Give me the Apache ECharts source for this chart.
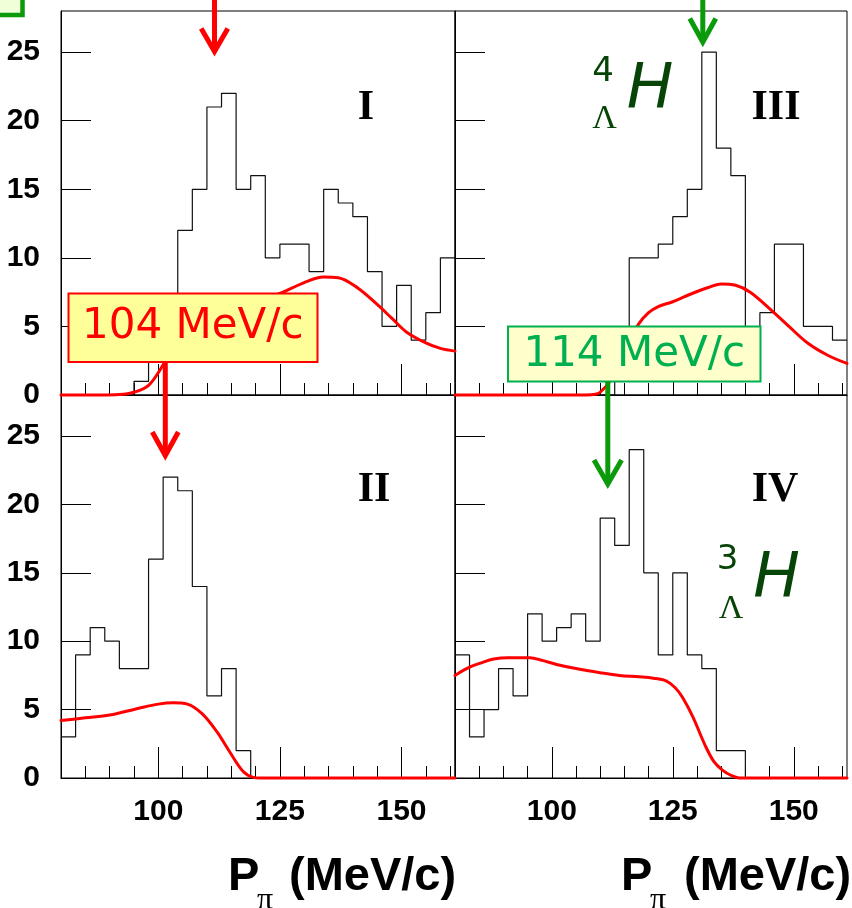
<!DOCTYPE html>
<html><head><meta charset="utf-8">
<script src="https://cdn.jsdelivr.net/npm/echarts@6/dist/echarts.min.js"></script>
<style>html,body{margin:0;padding:0;background:#fff}#c{width:852px;height:908px}</style>
</head><body><div id="c"></div>
<script>
// ---- data ----
const binEdges = [80,83,86,89,92,95,98,101,104,107,110,113,116,119,122,125,128,131,134,137,140,143,146,149,152,155,158,161];
const countsI   = [0,0,0,0,0,1,3,5,12,15,21,22,15,16,10,11,11,9,15,14,13,9,5,8,4,6,10];
const countsIII = [0,0,0,0,0,0,0,0,0,0,0,2,10,10,11,13,15,25,18,16,4,6,11,11,5,5,4];
const countsII  = [3,9,11,10,8,8,16,22,21,14,6,8,2,0,0,0,0,0,0,0,0,0,0,0,0,0,0];
const countsIV  = [9,3,5,8,6,12,10,11,12,10,19,17,24,15,9,15,9,8,2,2,0,0,0,0,0,0,0];

const curveI = [[80,0],[88,0],[92,0.03],[95,0.2],[98,0.7],[101,2.2],[104,4.0],[107,5.2],[110,5.9],[115,6.5],[120,6.9],[125,7.4],[130,8.2],[134,8.6],[137,8.55],[141,7.8],[145,6.6],[148,5.6],[151,4.6],[155,3.8],[158,3.4],[161,3.2]];
const curveIII = [[80,0],[100,0],[107,0],[109,0.05],[110,0.2],[112,1.0],[114,2.4],[116,3.9],[118,5.2],[120,6.0],[122,6.45],[125,6.8],[129,7.4],[132,7.8],[135,8.1],[138,8.0],[141,7.5],[145,6.3],[149,5.0],[153,3.75],[157,2.9],[161,2.3]];
const curveII = [[80,4.2],[85,4.4],[90,4.6],[96,5.1],[100,5.4],[103,5.5],[106,5.4],[109,4.7],[112,3.4],[114.7,1.9],[117.4,0.5],[119.5,0.05],[121,0],[161,0]];
const curveIV = [[80,7.5],[83,8.1],[85.3,8.4],[88,8.7],[91,8.8],[95.5,8.8],[98,8.6],[101,8.3],[105,8.0],[110,7.7],[114,7.5],[118,7.4],[121,7.3],[123.6,7.1],[125.5,6.6],[127,5.9],[129.1,4.5],[131.8,2.3],[133.5,1.2],[135.2,0.6],[137,0.2],[138.7,0],[161,0]];

const xMajorTicks = [100,125,150];
const xMinorTicks = [85,90,95,105,110,115,120,130,135,140,145,155,160];
const yTicks = [0,5,10,15,20,25];
const panelNames = ['I','III','II','IV'];

// ---- build ----
const panels = [
  {counts: countsI, curve: curveI},
  {counts: countsIII, curve: curveIII},
  {counts: countsII, curve: curveII},
  {counts: countsIV, curve: curveIV}
];
function hist(counts){
  const d = counts.map((c,i)=>[binEdges[i], c]);
  d.push([binEdges[binEdges.length-1], counts[counts.length-1]]);
  return d;
}
const gridPos = [
  {left:61, top:11, width:394, height:384},
  {left:455, top:11, width:392, height:384},
  {left:61, top:395, width:394, height:383},
  {left:455, top:395, width:392, height:383}
];
const grid = gridPos.map(p=>Object.assign({show:true, borderColor:'#000', borderWidth:1, backgroundColor:'transparent', containLabel:false}, p));
const xAxis = [], yAxis = [], series = [];
gridPos.forEach((p,g)=>{
  xAxis.push({gridIndex:g, type:'value', min:80, max:161, position:'bottom',
    axisLine:{show:true, onZero:false, lineStyle:{color:'#000', width:1}},
    axisTick:{show:true, inside:true, length:31, customValues:xMajorTicks, lineStyle:{color:'#000', width:1}},
    axisLabel:{show:g>=2, customValues:xMajorTicks, fontSize:30, fontWeight:'bold', fontFamily:'Liberation Sans, Arial, sans-serif', color:'#000', margin:19},
    splitLine:{show:false}});
  xAxis.push({gridIndex:g, type:'value', min:80, max:161, position:'bottom',
    axisLine:{show:false},
    axisTick:{show:true, inside:true, length:12, customValues:xMinorTicks, lineStyle:{color:'#000', width:1}},
    axisLabel:{show:false},
    splitLine:{show:false}});
  yAxis.push({gridIndex:g, type:'value', min:0, max:28,
    axisLine:{show:true, onZero:false, lineStyle:{color:'#000', width:1}},
    axisTick:{show:true, inside:true, length:30, customValues:yTicks, lineStyle:{color:'#000', width:1}},
    axisLabel:{show:g%2===0, customValues:yTicks, fontSize:30, fontWeight:'bold', fontFamily:'Liberation Sans, Arial, sans-serif', color:'#000', margin:21},
    splitLine:{show:false}});
  series.push({type:'line', name:'hist '+panelNames[g], xAxisIndex:2*g, yAxisIndex:g, data:hist(panels[g].counts),
    step:'end', symbol:'none', lineStyle:{color:'#111', width:1.2}, z:2});
  series.push({type:'line', name:'fit '+panelNames[g], xAxisIndex:2*g, yAxisIndex:g, data:panels[g].curve,
    smooth:0.35, symbol:'none', clip:false, lineStyle:{color:'#ff0000', width:3, cap:'round', join:'round'}, z:3});
});

const RED = '#ff0000', GREEN = '#0a9a0a', DKGREEN = '#074407', BGREEN = '#00b050';
function arrow(x, y0, y1, half, armDy, color){
  return [
    {type:'polyline', z:110, shape:{points:[[x,y0],[x,y1-2]]}, style:{stroke:color, lineWidth:5, fill:null}},
    {type:'polyline', z:110, shape:{points:[[x-half,y1-armDy],[x,y1],[x+half,y1-armDy]]}, style:{stroke:color, lineWidth:5, fill:null, lineJoin:'miter'}}
  ];
}
function txt(text, x, y, font, fill, align){
  return {type:'text', z:120, style:{text:text, x:x, y:y, font:font, fill:fill, textAlign:align||'center', textVerticalAlign:'middle'}};
}
const graphic = [
  // top-left fragment box
  {type:'rect', z:100, shape:{x:-10, y:-10, width:32.5, height:25}, style:{fill:'#f0ffd8', stroke:GREEN, lineWidth:4.5}},
  // panel labels
  txt('I', 366, 108, 'bold 42px "Liberation Serif", serif', '#000'),
  txt('III', 776, 108, 'bold 42px "Liberation Serif", serif', '#000'),
  txt('II', 374, 490, 'bold 42px "Liberation Serif", serif', '#000'),
  txt('IV', 775, 490, 'bold 42px "Liberation Serif", serif', '#000'),
  // isotope labels
  txt('4', 603, 72.5, '34px "DejaVu Sans", sans-serif', DKGREEN),
  txt('Λ', 604.7, 119.5, '34px "Liberation Serif", serif', DKGREEN),
  txt('H', 650, 92, 'italic 62px "DejaVu Sans", sans-serif', DKGREEN),
  txt('3', 727.5, 560.5, '34px "DejaVu Sans", sans-serif', DKGREEN),
  txt('Λ', 731, 609, '34px "Liberation Serif", serif', DKGREEN),
  txt('H', 776.5, 581, 'italic 62px "DejaVu Sans", sans-serif', DKGREEN),
  // value boxes
  {type:'rect', z:100, shape:{x:68.5, y:293.5, width:249, height:68.5}, style:{fill:'#ffff99', stroke:RED, lineWidth:2}},
  txt('104 MeV/c', 192.8, 327, '42px "DejaVu Sans", sans-serif', RED),
  {type:'rect', z:100, shape:{x:508, y:326.5, width:252.5, height:55}, style:{fill:'#ffffcc', stroke:BGREEN, lineWidth:2}},
  txt('114 MeV/c', 634.2, 355, '42px "DejaVu Sans", sans-serif', BGREEN),
  // axis titles
  txt('P', 228, 877, 'bold 47px "Liberation Sans", Arial, sans-serif', '#000', 'left'),
  txt('π', 257, 901, '32px "Liberation Serif", serif', '#000', 'left'),
  txt('(MeV/c)', 289, 877, 'bold 47px "Liberation Sans", Arial, sans-serif', '#000', 'left'),
  txt('P', 621, 877, 'bold 47px "Liberation Sans", Arial, sans-serif', '#000', 'left'),
  txt('π', 650, 901, '32px "Liberation Serif", serif', '#000', 'left'),
  txt('(MeV/c)', 684, 877, 'bold 47px "Liberation Sans", Arial, sans-serif', '#000', 'left')
].concat(
  arrow(214.5, -2, 51.5, 13.3, 23, RED),
  arrow(165.3, 362, 455.5, 13, 23.5, RED),
  arrow(702.8, -2, 42, 13, 23.5, GREEN),
  arrow(607.8, 381.7, 484, 13.8, 24, GREEN)
);

const chart = echarts.init(document.getElementById('c'), null, {renderer:'canvas'});
chart.setOption({
  animation:false,
  backgroundColor:'#fff',
  grid, xAxis, yAxis, series, graphic
});
</script></body></html>
